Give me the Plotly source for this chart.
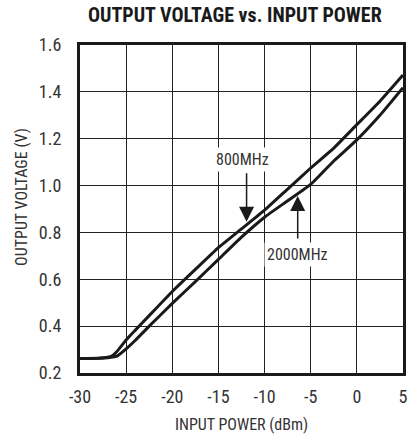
import plotly.graph_objects as go

# Data
input_power = [-30, -28, -27, -26.5, -26, -25, -24, -22.5, -20, -17.5, -15,
               -12.5, -10, -7.5, -5, -2.5, 0, 2.5, 5]
v_800mhz = [0.262, 0.263, 0.267, 0.274, 0.292, 0.341, 0.383, 0.445, 0.548, 0.642,
            0.735, 0.815, 0.895, 0.985, 1.075, 1.16, 1.26, 1.36, 1.472]
v_2000mhz = [0.262, 0.263, 0.265, 0.268, 0.272, 0.303, 0.34, 0.40, 0.497, 0.59,
             0.685, 0.78, 0.865, 0.935, 1.005, 1.105, 1.195, 1.3, 1.418]
x_ticks = [-30, -25, -20, -15, -10, -5, 0, 5]
y_ticks = [0.2, 0.4, 0.6, 0.8, 1.0, 1.2, 1.4, 1.6]

FONT = "Liberation Sans Narrow, Arial Narrow, Roboto Condensed, sans-serif"

fig = go.Figure()
fig.add_trace(go.Scatter(x=input_power, y=v_800mhz, mode="lines", name="800MHz",
                         line=dict(color="#1a1a1a", width=3, shape="spline", smoothing=0.4)))
fig.add_trace(go.Scatter(x=input_power, y=v_2000mhz, mode="lines", name="2000MHz",
                         line=dict(color="#1a1a1a", width=3, shape="spline", smoothing=0.4)))

axis_common = dict(showgrid=True, gridcolor="#222222", gridwidth=1,
                   showline=True, linecolor="#1a1a1a", linewidth=3, mirror=True,
                   zeroline=False, ticks="", tickfont=dict(family=FONT, size=18, color="#333333"))

fig.update_xaxes(range=[-30, 5], tickvals=x_ticks, ticktext=[str(v) for v in x_ticks],
                 ticklabelstandoff=5, **axis_common)
fig.update_yaxes(range=[0.2, 1.6], tickvals=y_ticks, ticktext=[f"{v:.1f}" for v in y_ticks],
                 ticklabelstandoff=12, **axis_common)

annotations = [
    dict(text="<b>OUTPUT VOLTAGE vs. INPUT POWER</b>", xref="paper", yref="paper",
         x=0.48, y=1 + 30 / 328, xanchor="center", yanchor="middle", showarrow=False,
         font=dict(family=FONT, size=20, color="#1a1a1a")),
    dict(text="INPUT POWER (dBm)", xref="paper", yref="paper", x=0.5, y=-51 / 328,
         xanchor="center", yanchor="middle", showarrow=False,
         font=dict(family=FONT, size=16, color="#333333")),
    dict(text="OUTPUT VOLTAGE (V)", xref="paper", yref="paper", x=-60 / 328, y=176 / 328,
         xanchor="center", yanchor="middle", textangle=-90, showarrow=False,
         font=dict(family=FONT, size=16, color="#333333")),
    dict(text="800MHz", x=-12.39, y=1.113, xref="x", yref="y", showarrow=False,
         bgcolor="white", borderpad=2, font=dict(family=FONT, size=16, color="#333333")),
    dict(text="", x=-11.95, y=0.846, ax=-11.95, ay=1.059, xref="x", yref="y",
         axref="x", ayref="y", showarrow=True, arrowhead=2, arrowsize=2.0,
         arrowwidth=1.5, arrowcolor="#1a1a1a", standoff=0),
    dict(text="2000MHz", x=-6.41, y=0.704, xref="x", yref="y", showarrow=False,
         bgcolor="white", borderpad=2, font=dict(family=FONT, size=16, color="#333333")),
    dict(text="", x=-6.41, y=0.955, ax=-6.41, ay=0.768, xref="x", yref="y",
         axref="x", ayref="y", showarrow=True, arrowhead=2, arrowsize=2.0,
         arrowwidth=1.5, arrowcolor="#1a1a1a", standoff=0),
]

fig.update_layout(width=412, height=437, margin=dict(l=80, r=4, t=45, b=64),
                  paper_bgcolor="white", plot_bgcolor="white", showlegend=False,
                  annotations=annotations)

fig.write_html("out.html", config={"displayModeBar": False},
               post_script="document.body.style.margin='0';")
